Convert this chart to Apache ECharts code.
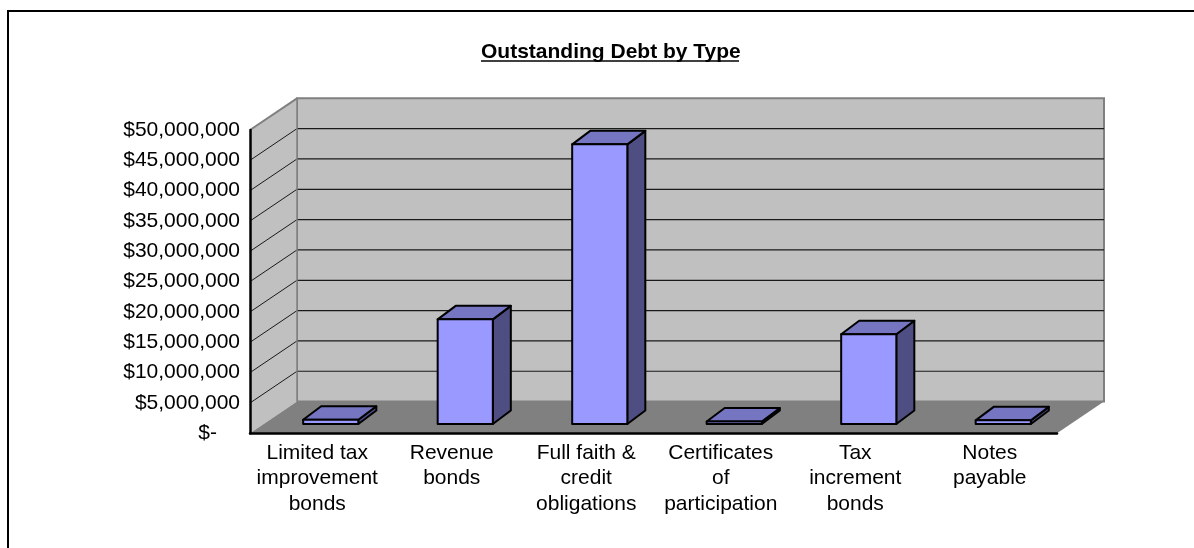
<!DOCTYPE html>
<html>
<head>
<meta charset="utf-8">
<script src="https://cdn.jsdelivr.net/npm/echarts@6/dist/echarts.min.js"></script>
<style>
html,body{margin:0;padding:0;background:#fff;}
#chart{width:1194px;height:548px;}
</style>
</head>
<body>
<div id="chart"></div>
<script>
const categories = [
  'Limited tax\nimprovement\nbonds',
  'Revenue\nbonds',
  'Full faith &\ncredit\nobligations',
  'Certificates\nof\nparticipation',
  'Tax\nincrement\nbonds',
  'Notes\npayable'
];
const debtValues = [700000, 17250000, 46100000, 400000, 14800000, 600000];
const yTicks = [0, 5000000, 10000000, 15000000, 20000000, 25000000, 30000000, 35000000, 40000000, 45000000, 50000000];

const FONT = '"Liberation Sans", Arial, Helvetica, sans-serif';
const DEPTH = [47, -31.7];       // wall depth offset (px)
const BAR_FRONT = [13.5, -9.3];  // bar front face offset from front plane
const BAR_DEPTH = [18, -13.5];   // bar depth

const chart = echarts.init(document.getElementById('chart'), null, {renderer: 'canvas'});

function wallsRender(params, api) {
  const cs = params.coordSys;
  const L = cs.x, R = cs.x + cs.width, T = cs.y, B = cs.y + cs.height;
  const dx = DEPTH[0], dy = DEPTH[1];
  const children = [];
  children.push({type: 'polygon', shape: {points: [[L+dx, T+dy], [R+dx, T+dy], [R+dx, B+dy], [L+dx, B+dy]]},
    style: {fill: '#C0C0C0', stroke: '#808080', lineWidth: 2}});
  children.push({type: 'polygon', shape: {points: [[L, T], [L+dx, T+dy], [L+dx, B+dy], [L, B]]},
    style: {fill: '#C0C0C0', stroke: null}});
  yTicks.forEach(function (t) {
    if (t === 0) return;
    const p = api.coord([0, t]);
    const y = p[1];
    if (t < yTicks[yTicks.length - 1]) {
      children.push({type: 'line', shape: {x1: L+dx, y1: y+dy, x2: R+dx, y2: y+dy},
        style: {stroke: '#1a1a1a', lineWidth: 1.2}});
      children.push({type: 'line', shape: {x1: L, y1: y, x2: L+dx, y2: y+dy},
        style: {stroke: '#1a1a1a', lineWidth: 1}});
    }
  });
  children.push({type: 'line', shape: {x1: L, y1: T, x2: L+dx, y2: T+dy}, style: {stroke: '#808080', lineWidth: 2}});
  children.push({type: 'line', shape: {x1: L+dx, y1: T+dy, x2: L+dx, y2: B+dy}, style: {stroke: '#808080', lineWidth: 1.5}});
  children.push({type: 'polygon', shape: {points: [[L, B], [L+dx, B+dy], [R+dx, B+dy], [R, B]]},
    style: {fill: '#808080', stroke: null}});
  return {type: 'group', children: children};
}

function barRender(params, api) {
  const i = api.value(0), v = api.value(1);
  const base = api.coord([i, 0]);
  const top = api.coord([i, v]);
  const bw = api.size([1, 0])[0] * 0.41;
  const x0 = base[0] + BAR_FRONT[0] - bw / 2, x1 = x0 + bw;
  const yb = base[1] + BAR_FRONT[1], yt = top[1] + BAR_FRONT[1];
  const dx = BAR_DEPTH[0], dy = BAR_DEPTH[1];
  const stroke = {stroke: '#000', lineWidth: 2, lineJoin: 'round'};
  return {type: 'group', children: [
    {type: 'polygon', shape: {points: [[x1, yt], [x1+dx, yt+dy], [x1+dx, yb+dy], [x1, yb]]},
      style: Object.assign({fill: '#4E4E82'}, stroke)},
    {type: 'polygon', shape: {points: [[x0, yt], [x0+dx, yt+dy], [x1+dx, yt+dy], [x1, yt]]},
      style: Object.assign({fill: '#7575C2'}, stroke)},
    {type: 'rect', shape: {x: x0, y: yt, width: bw, height: yb - yt},
      style: Object.assign({fill: '#9999FF'}, stroke)}
  ]};
}

const option = {
  animation: false,
  backgroundColor: '#fff',
  title: {
    text: 'Outstanding Debt by Type',
    left: 476, top: 37,
    textStyle: {fontFamily: FONT, fontSize: 21, fontWeight: 'bold', color: '#000'}
  },
  graphic: [
    {type: 'rect', shape: {x: 8, y: 11, width: 1300, height: 700}, style: {fill: null, stroke: '#000', lineWidth: 2}, z: -10},
    {type: 'line', shape: {x1: 481, y1: 61, x2: 739, y2: 61}, style: {stroke: '#000', lineWidth: 1.5}}
  ],
  grid: {left: 250, right: 137, top: 130, bottom: 114.7},
  xAxis: {
    type: 'category',
    data: categories,
    z: 10,
    axisLine: {show: true, lineStyle: {color: '#000', width: 2.5}},
    axisTick: {show: false},
    axisLabel: {interval: 0, margin: 7, color: '#000', fontFamily: FONT, fontSize: 21, lineHeight: 25.5, align: 'center'},
    splitLine: {show: false}
  },
  yAxis: {
    type: 'value',
    min: 0, max: 50000000, interval: 5000000,
    z: 10,
    axisLine: {show: true, lineStyle: {color: '#000', width: 2.5}},
    axisTick: {show: false},
    splitLine: {show: false},
    axisLabel: {
      margin: 10, color: '#000', fontFamily: FONT, fontSize: 21,
      formatter: function (v) {
        if (v === 0) return '{z|$-}';
        return '$' + v.toLocaleString('en-US');
      },
      rich: {z: {fontFamily: FONT, fontSize: 21, color: '#000', padding: [0, 23, 0, 0]}}
    }
  },
  series: [
    {type: 'custom', name: 'walls', silent: true, z: 1, data: [[0, 0]], encode: {x: 0, y: 1}, renderItem: wallsRender},
    {type: 'custom', name: 'Outstanding Debt', z: 2, data: categories.map(function (c, i) { return [i, debtValues[i]]; }),
      encode: {x: 0, y: 1}, renderItem: barRender}
  ]
};
chart.setOption(option);
</script>
</body>
</html>
